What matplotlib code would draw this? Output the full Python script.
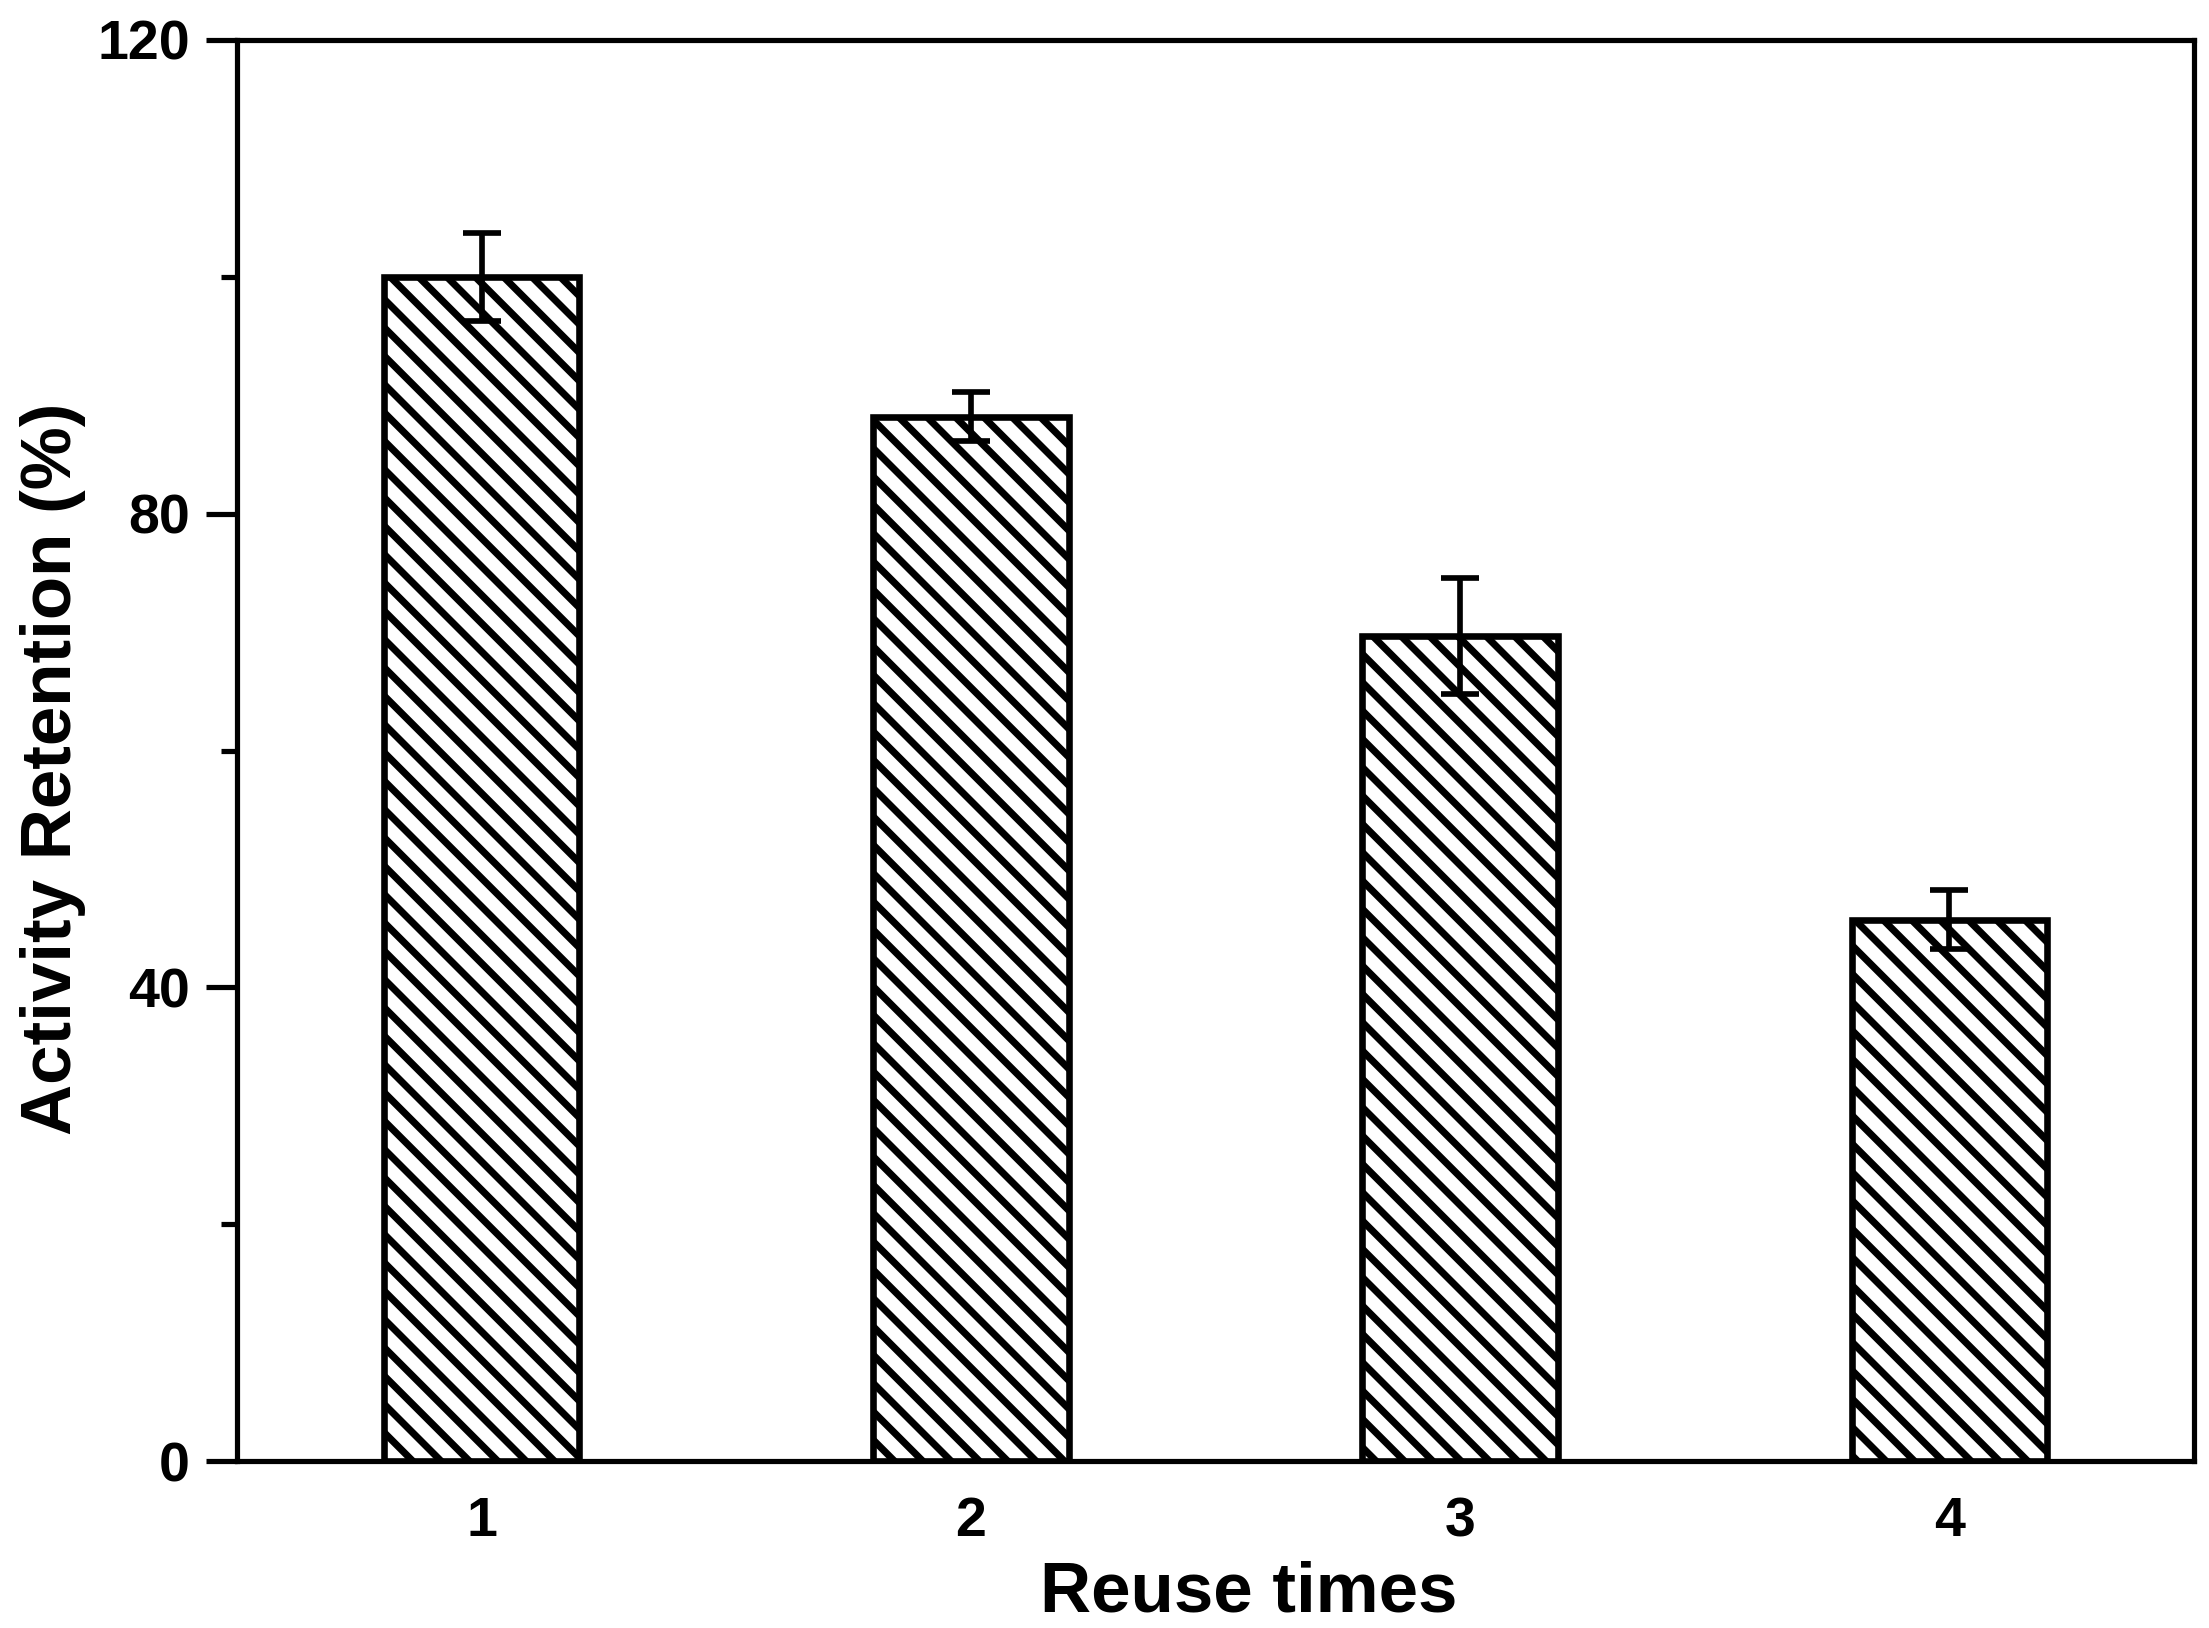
import matplotlib
matplotlib.use("Agg")
import matplotlib.pyplot as plt
from matplotlib.ticker import MultipleLocator

reuse = [1, 2, 3, 4]
retention = [100.0, 88.2, 69.7, 45.7]
errors = [3.7, 2.1, 4.9, 2.5]
x_ticklabels = ["1", "2", "3", "4"]
y_ticks = [0, 40, 80, 120]

plt.rcParams['font.family'] = ['Liberation Sans', 'DejaVu Sans']
plt.rcParams['hatch.linewidth'] = 3.0

DPI = 170
fig = plt.figure(figsize=(2209 / DPI, 1628 / DPI), dpi=DPI)
ax = fig.add_axes([237 / 2209, 1 - 1461 / 1628, (2194 - 237) / 2209, (1461 - 40) / 1628])

ax.bar(reuse, retention, width=0.4, color='white', edgecolor='black',
       linewidth=2.8, hatch='\\\\', zorder=2)
ax.errorbar(reuse, retention, yerr=errors, fmt='none', ecolor='black',
            elinewidth=2.4, capsize=8, capthick=2.4, zorder=3)

ax.set_xlim(0.5, 4.5)
ax.set_ylim(0, 120)
ax.set_xticks(reuse)
ax.set_xticklabels(x_ticklabels)
ax.set_yticks(y_ticks)
ax.yaxis.set_minor_locator(MultipleLocator(20))

for s in ax.spines.values():
    s.set_linewidth(2.2)

ax.tick_params(axis='y', which='major', direction='out', length=13, width=2.2,
               pad=7, labelsize=23.5)
ax.tick_params(axis='y', which='minor', direction='out', length=6.8, width=2.2)
ax.tick_params(axis='x', which='major', length=0, pad=15, labelsize=23.5)
for lab in ax.get_xticklabels() + ax.get_yticklabels():
    lab.set_fontweight('bold')

ax.set_xlabel('Reuse times', fontsize=30, fontweight='bold')
ax.set_ylabel('Activity Retention (%)', fontsize=30, fontweight='bold')
ax.xaxis.set_label_coords(0.517, -0.070)
ax.yaxis.set_label_coords(-0.077, 0.487)

fig.savefig('out.png', dpi=DPI)
